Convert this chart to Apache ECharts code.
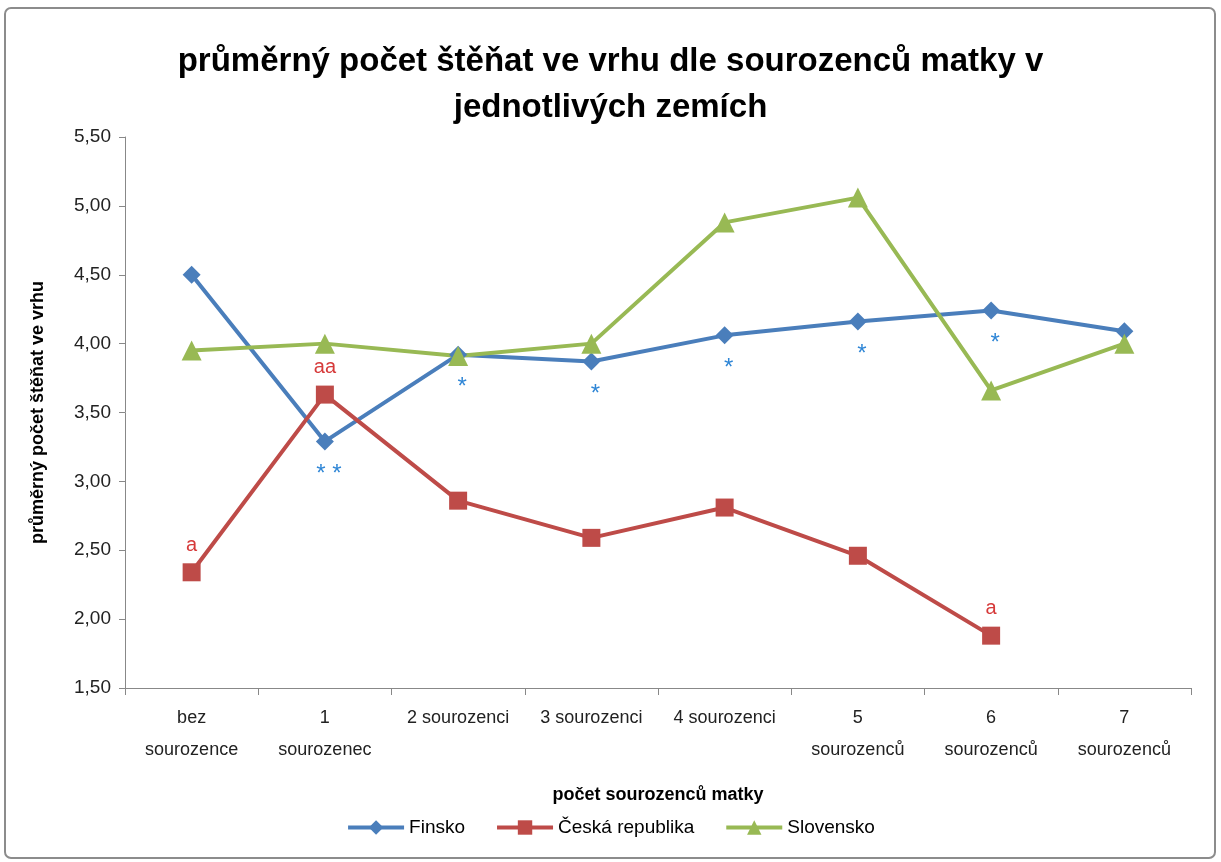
<!DOCTYPE html>
<html><head><meta charset="utf-8">
<script src="https://cdn.jsdelivr.net/npm/echarts@6/dist/echarts.min.js"></script>
<style>html,body{margin:0;padding:0;background:#fff}#c{width:1221px;height:862px}</style>
</head><body><div id="c"></div>
<script>
const categories = ['bez\nsourozence','1\nsourozenec','2 sourozenci','3 sourozenci','4 sourozenci','5\nsourozenců','6\nsourozenců','7\nsourozenců'];
const finsko = [4.50, 3.29, 3.92, 3.87, 4.06, 4.16, 4.24, 4.09];
const ceska = [2.34, 3.63, 2.86, 2.59, 2.81, 2.46, 1.88, null];
const slovensko = [3.95, 4.00, 3.91, 4.00, 4.88, 5.06, 3.66, 4.00];
const finskoNotes = ['', '* *', '*', '*', '*', '*', '*', ''];
const ceskaNotes = ['a', 'aa', '', '', '', '', 'a', ''];
const yTicks = [1.5, 2.0, 2.5, 3.0, 3.5, 4.0, 4.5, 5.0, 5.5];

const FONT = '"Liberation Sans", Arial, sans-serif';
const chart = echarts.init(document.getElementById('c'));

function withNotes(vals, notes, pos, color, size, offset) {
  return vals.map((v, i) => {
    if (!notes[i]) return v;
    return {
      value: v,
      label: { show: true, position: pos, formatter: notes[i], color: color, fontSize: size, fontFamily: FONT, distance: 8, offset: offset || [0,0] }
    };
  });
}

chart.setOption({
  animation: false,
  textStyle: { fontFamily: FONT },
  title: {
    text: 'průměrný počet štěňat ve vrhu dle sourozenců matky v\njednotlivých zemích',
    left: 'center', top: 34,
    textStyle: { fontSize: 33, fontWeight: 'bold', color: '#000', lineHeight: 46, fontFamily: FONT }
  },
  graphic: [{
    type: 'rect', shape: { x: 5, y: 8, width: 1210, height: 850, r: 6 },
    style: { fill: 'none', stroke: '#8c8c8c', lineWidth: 2 }, silent: true, z: -1
  }],
  legend: {
    bottom: 20, left: 'center', itemWidth: 56, itemHeight: 18, itemGap: 30,
    textStyle: { fontSize: 19, color: '#000', fontFamily: FONT },
    lineStyle: { width: 4 },
    data: ['Finsko', 'Česká republika', 'Slovensko']
  },
  grid: { left: 125, right: 30, top: 137, bottom: 174 },
  xAxis: {
    type: 'category', data: categories, boundaryGap: true,
    axisLine: { lineStyle: { color: '#888', width: 1 } },
    axisTick: { show: true, length: 7, lineStyle: { color: '#888' }, alignWithLabel: false },
    axisLabel: { fontSize: 18, color: '#222', lineHeight: 32, margin: 14, interval: 0, fontFamily: FONT },
    name: 'počet sourozenců matky', nameLocation: 'middle', nameGap: 98,
    nameTextStyle: { fontSize: 18, fontWeight: 'bold', color: '#000', fontFamily: FONT }
  },
  yAxis: {
    type: 'value', min: 1.5, max: 5.5, interval: 0.5,
    axisLine: { show: true, lineStyle: { color: '#888', width: 1 } },
    axisTick: { show: true, length: 6, lineStyle: { color: '#888' } },
    splitLine: { show: false },
    axisLabel: { fontSize: 19, color: '#222', margin: 14, fontFamily: FONT,
      formatter: v => v.toFixed(2).replace('.', ',') },
    name: 'průměrný počet štěňat ve vrhu', nameLocation: 'middle', nameGap: 78, nameRotate: 90,
    nameTextStyle: { fontSize: 18, fontWeight: 'bold', color: '#000', fontFamily: FONT }
  },
  series: [
    { name: 'Finsko', type: 'line', data: withNotes(finsko, finskoNotes, 'bottom', '#2f86d6', 24, [4, 4]),
      color: '#4a7ebb', symbol: 'diamond', symbolSize: 18, lineStyle: { width: 4 } },
    { name: 'Česká republika', type: 'line', data: withNotes(ceska, ceskaNotes, 'top', '#d63a3a', 20),
      color: '#be4b48', symbol: 'rect', symbolSize: 18, lineStyle: { width: 4 } },
    { name: 'Slovensko', type: 'line', data: slovensko,
      color: '#98b954', symbol: 'triangle', symbolSize: 20, lineStyle: { width: 4 } }
  ]
});
</script></body></html>
